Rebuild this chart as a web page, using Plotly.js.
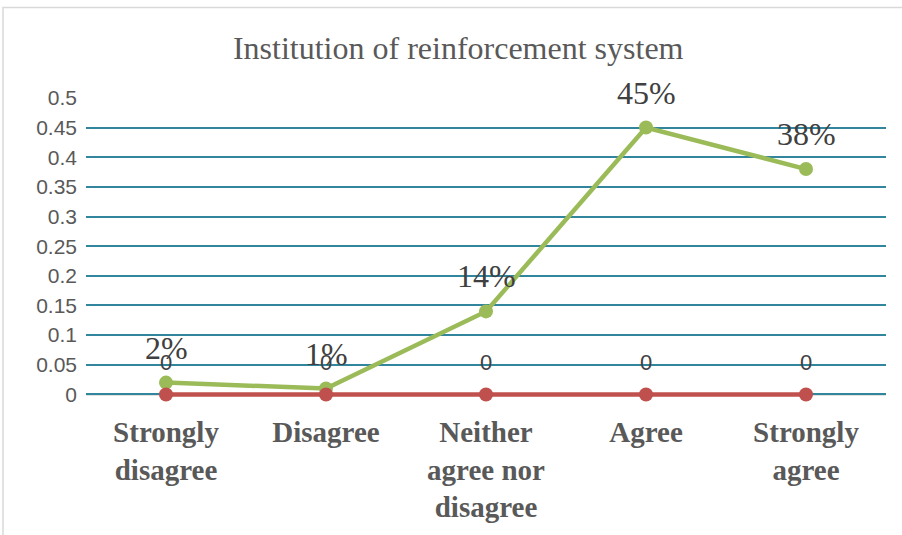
<!DOCTYPE html>
<html>
<head>
<meta charset="utf-8">
<script src="https://cdn.plot.ly/plotly-3.0.1.min.js"></script>
<style>html,body{margin:0;padding:0;background:#fff;}#chart{width:902px;height:535px;}</style>
</head>
<body>
<div id="chart"></div>
<script>
const categories = ["Strongly disagree", "Disagree", "Neither agree nor disagree", "Agree", "Strongly agree"];
const tickLabels = ["Strongly<br>disagree", "Disagree", "Neither<br>agree nor<br>disagree", "Agree", "Strongly<br>agree"];
const greenValues = [0.02, 0.01, 0.14, 0.45, 0.38];
const greenLabels = ["2%", "1%", "14%", "45%", "38%"];
const redValues = [0, 0, 0, 0, 0];
const redLabels = ["0", "0", "0", "0", "0"];
const yTicks = [0, 0.05, 0.1, 0.15, 0.2, 0.25, 0.3, 0.35, 0.4, 0.45, 0.5];
const yTickText = ["0", "0.05", "0.1", "0.15", "0.2", "0.25", "0.3", "0.35", "0.4", "0.45", "0.5"];

const SERIF = 'Liberation Serif';
const SANS = 'Liberation Sans';

const traces = [
  {x: categories, y: greenValues, type: 'scatter', mode: 'lines+markers', cliponaxis: false,
   line: {color: '#9BBB59', width: 4.5}, marker: {color: '#9BBB59', size: 14}, hoverinfo: 'none'},
  {x: categories, y: redValues, type: 'scatter', mode: 'lines+markers', cliponaxis: false,
   line: {color: '#C0504D', width: 4.5}, marker: {color: '#C0504D', size: 14}, hoverinfo: 'none'}
];

const annotations = [];
categories.forEach((c, i) => {
  annotations.push({x: c, y: greenValues[i], text: greenLabels[i], showarrow: false, yshift: 35,
    font: {family: SERIF, size: 32, color: '#404040'}});
  annotations.push({x: c, y: redValues[i], text: redLabels[i], showarrow: false, yshift: 32,
    font: {family: SANS, size: 22, color: '#404040'}});
});

const layout = {
  width: 902, height: 535,
  margin: {l: 86, r: 16, t: 97, b: 137},
  paper_bgcolor: '#ffffff', plot_bgcolor: '#ffffff',
  showlegend: false,
  font: {family: SANS},
  title: {text: 'Institution of reinforcement system', x: 0.508, xanchor: 'center', y: 0.91, yanchor: 'middle',
    font: {family: SERIF, size: 32, color: '#595959'}},
  xaxis: {type: 'category', range: [-0.5, 4.5], tickvals: categories, ticktext: tickLabels,
    showgrid: false, showline: false, zeroline: false, ticks: '',
    tickfont: {family: SERIF, size: 29, color: '#595959', weight: 'bold'},
    ticklabelstandoff: 14},
  yaxis: {range: [-0.006, 0.5015], tickvals: yTicks, ticktext: yTickText, showgrid: true, gridcolor: '#31859C', gridwidth: 2,
    zeroline: false, showline: false, ticks: '',
    tickfont: {family: SANS, size: 21, color: '#595959'}, ticklabelstandoff: 8},
  annotations: annotations,
  shapes: [
    {type: 'line', xref: 'paper', yref: 'y', x0: 0, x1: 1, y0: 0, y1: 0, line: {color: '#D9D9D9', width: 2.5}, layer: 'between'},
    {type: 'rect', xref: 'paper', yref: 'paper', x0: -83/800, x1: 1.05, y0: -0.5, y1: 1.297,
     line: {color: '#D9D9D9', width: 1.5}, layer: 'below'}
  ]
};

Plotly.newPlot('chart', traces, layout, {displayModeBar: false, staticPlot: true});
</script>
</body>
</html>
